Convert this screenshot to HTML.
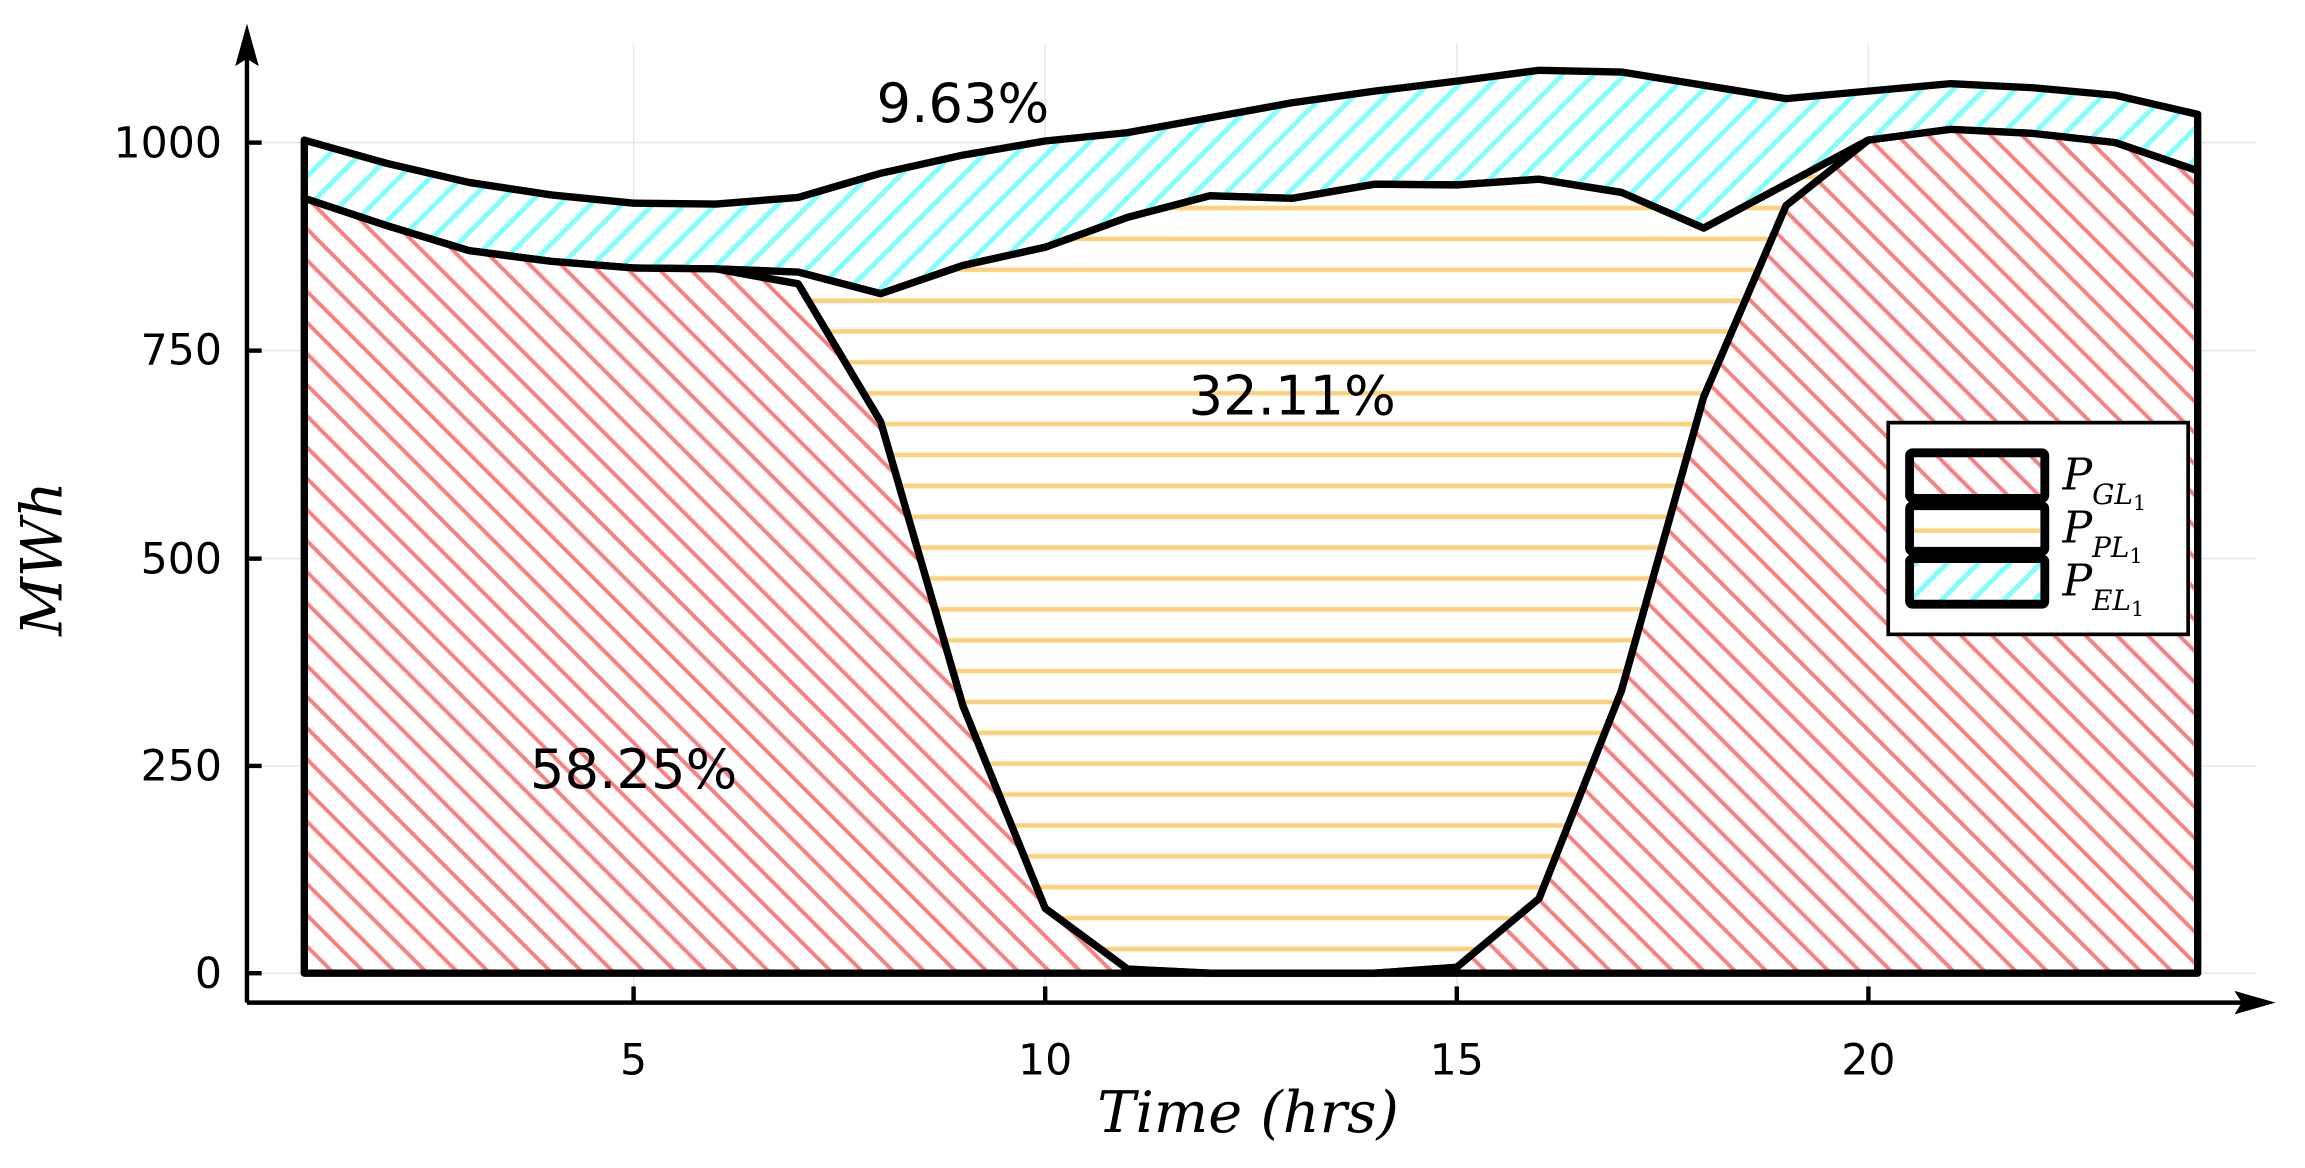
<!DOCTYPE html>
<html><head><meta charset="utf-8"><style>html,body{margin:0;padding:0;background:#fff}svg{display:block}</style></head>
<body>
<svg width="2305" height="1168" viewBox="0 0 1568 794.5" preserveAspectRatio="none" xmlns="http://www.w3.org/2000/svg">
<defs>
<pattern id="pr" patternUnits="userSpaceOnUse" width="15" height="15" patternTransform="rotate(45)"><rect width="15" height="15" fill="#fff"/><line x1="0" y1="7.5" x2="15" y2="7.5" stroke="#f88080" stroke-width="2.6"/></pattern>
<pattern id="pc" patternUnits="userSpaceOnUse" width="15" height="15" patternTransform="rotate(-45)"><rect width="15" height="15" fill="#fff"/><line x1="0" y1="7.5" x2="15" y2="7.5" stroke="#80ffff" stroke-width="3.4"/></pattern>
<pattern id="po" patternUnits="userSpaceOnUse" width="21" height="21" y="5"><rect width="21" height="21" fill="#fff"/><line x1="0" y1="10.5" x2="21" y2="10.5" stroke="#fdd07a" stroke-width="3"/></pattern>
</defs>
<g stroke="#e6e6e6" stroke-width="1">
<line x1="431" y1="30" x2="431" y2="682"/><line x1="711" y1="30" x2="711" y2="682"/><line x1="991" y1="30" x2="991" y2="682"/><line x1="1271" y1="30" x2="1271" y2="682"/>
<line x1="178" y1="97" x2="1535" y2="97"/><line x1="178" y1="238.5" x2="1535" y2="238.5"/><line x1="178" y1="380" x2="1535" y2="380"/><line x1="178" y1="521" x2="1535" y2="521"/><line x1="178" y1="662" x2="1535" y2="662"/>
</g>
<polygon fill="url(#pc)" stroke="#000" stroke-width="5" stroke-linejoin="round" points="207,95.3 263,111.1 319,124.1 375,132.6 431,138.2 487,138.8 543,134.3 599,117.9 655,105.5 711,95.9 767,90.2 823,80.1 879,69.9 935,62 991,55.2 1047,47.8 1103,49 1159,58 1215,67.1 1271,62 1327,56.9 1383,59.7 1439,64.8 1495,77.8 1495,116.2 1439,97 1383,90.8 1327,88 1271,95.3 1215,125.3 1159,155.2 1103,130.9 1047,121.9 991,125.8 935,125.3 879,134.9 823,133.2 767,147.9 711,168.2 655,180.6 599,199.8 543,185.1 487,182.9 431,182.3 375,177.8 319,170.5 263,153.5 207,134.9"/>
<polygon fill="url(#po)" stroke="#000" stroke-width="5" stroke-linejoin="round" points="207,134.9 263,153.5 319,170.5 375,177.8 431,182.3 487,182.9 543,185.1 599,199.8 655,180.6 711,168.2 767,147.9 823,133.2 879,134.9 935,125.3 991,125.8 1047,121.9 1103,130.9 1159,155.2 1215,125.3 1271,95.3 1271,95.3 1215,139.9 1159,269.9 1103,469.9 1047,611.2 991,658 935,662 879,662 823,662 767,659.2 711,617.9 655,480.1 599,286.8 543,193.1 487,182.9 431,182.3 375,177.8 319,170.5 263,153.5"/>
<polygon fill="url(#pr)" stroke="#000" stroke-width="5" stroke-linejoin="round" points="207,134.9 263,153.5 319,170.5 375,177.8 431,182.3 487,182.9 543,193.1 599,286.8 655,480.1 711,617.9 767,659.2 823,662 879,662 935,662 991,658 1047,611.2 1103,469.9 1159,269.9 1215,139.9 1271,95.3 1327,88 1383,90.8 1439,97 1495,116.2 1495,662 207,662"/>
<g stroke="#000" stroke-width="3">
<line x1="168" y1="682" x2="168" y2="30"/><line x1="168" y1="682" x2="1530" y2="682"/>
<line x1="168" y1="97" x2="178" y2="97"/><line x1="168" y1="238.5" x2="178" y2="238.5"/><line x1="168" y1="380" x2="178" y2="380"/><line x1="168" y1="521" x2="178" y2="521"/><line x1="168" y1="662" x2="178" y2="662"/>
<line x1="431" y1="682" x2="431" y2="671"/><line x1="711" y1="682" x2="711" y2="671"/><line x1="991" y1="682" x2="991" y2="671"/><line x1="1271" y1="682" x2="1271" y2="671"/>
</g>
<polygon points="168,16 160,45 168,40 176,45" fill="#000"/>
<polygon points="1548,682 1520,674 1525,682 1520,690" fill="#000"/>
<g font-family="'DejaVu Sans','Liberation Sans',sans-serif" font-size="29" fill="#000">
<g text-anchor="end"><text x="151" y="107">1000</text><text x="151" y="248">750</text><text x="151" y="390">500</text><text x="151" y="531">250</text><text x="151" y="672">0</text></g>
<g text-anchor="middle"><text x="431" y="731">5</text><text x="711" y="731">10</text><text x="991" y="731">15</text><text x="1271" y="731">20</text></g>
<g font-size="37" text-anchor="middle"><text x="655" y="83">9.63%</text><text x="879" y="282">32.11%</text><text x="431" y="536">58.25%</text></g>
</g>
<g font-family="'DejaVu Serif','Liberation Serif',serif" font-style="italic" fill="#000">
<text x="849" y="770" font-size="39" text-anchor="middle">Time (hrs)</text>
<text transform="translate(42,380) rotate(-90)" font-size="39" text-anchor="middle">MWh</text>
</g>
<rect x="1284.5" y="287.5" width="204" height="144" fill="#fff" stroke="#000" stroke-width="2.5"/>
<rect x="1299" y="308" width="92" height="31" rx="2" fill="url(#pr)" stroke="#000" stroke-width="6"/>
<rect x="1299" y="344" width="92" height="31" rx="2" fill="#fff" stroke="#000" stroke-width="6"/>
<line x1="1302" y1="361" x2="1388" y2="361" stroke="#fdd07a" stroke-width="3"/>
<rect x="1299" y="380" width="92" height="31" rx="2" fill="url(#pc)" stroke="#000" stroke-width="6"/>
<g font-family="'DejaVu Serif','Liberation Serif',serif" font-style="italic" fill="#000">
<text x="1403" y="333" font-size="30">P<tspan font-size="19" dy="10">GL</tspan><tspan font-size="14" dy="4" font-style="normal">1</tspan></text>
<text x="1403" y="369" font-size="30">P<tspan font-size="19" dy="10">PL</tspan><tspan font-size="14" dy="4" font-style="normal">1</tspan></text>
<text x="1403" y="405" font-size="30">P<tspan font-size="19" dy="10">EL</tspan><tspan font-size="14" dy="4" font-style="normal">1</tspan></text>
</g>
</svg>
</body></html>
